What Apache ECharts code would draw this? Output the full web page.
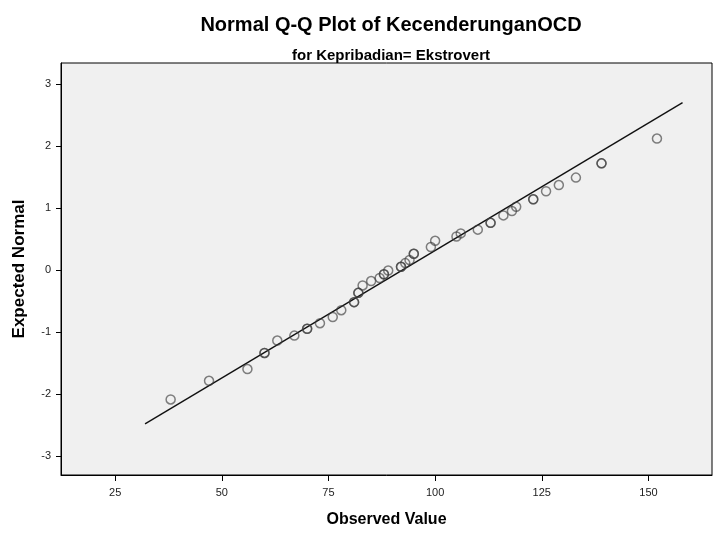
<!DOCTYPE html>
<html>
<head>
<meta charset="utf-8">
<script src="https://cdn.jsdelivr.net/npm/echarts@6/dist/echarts.min.js"></script>
<style>
html,body{margin:0;padding:0;background:#fff;}
#chart{width:715px;height:533px;}
</style>
</head>
<body>
<div id="chart"></div>
<script>
// Observed values (repeated values are tied observations)
var observed = [38, 47, 56, 60, 60, 63, 67, 70, 70, 73, 76, 78, 81, 81, 82, 82, 83, 85, 87, 88, 88, 89, 92, 92, 93, 94, 95, 95, 99, 100, 105, 106, 110, 113, 113, 116, 118, 119, 123, 123, 126, 129, 133, 139, 139, 152];
// Expected normal values
var expected = [-2.09, -1.79, -1.60, -1.34, -1.34, -1.14, -1.06, -0.95, -0.95, -0.86, -0.76, -0.65, -0.52, -0.52, -0.37, -0.37, -0.25, -0.18, -0.13, -0.07, -0.07, -0.01, 0.05, 0.05, 0.11, 0.16, 0.26, 0.26, 0.37, 0.47, 0.54, 0.59, 0.65, 0.76, 0.76, 0.88, 0.95, 1.02, 1.14, 1.14, 1.27, 1.37, 1.49, 1.72, 1.72, 2.12];
// Reference line end points
var lineX = [32.0, 158.0];
var lineY = [-2.484, 2.70];
// Tick labels
var xTicks = [25, 50, 75, 100, 125, 150];
var yTicks = [-3, -2, -1, 0, 1, 2, 3];

var pts = observed.map(function (v, i) { return [v, expected[i]]; });
var linePts = lineX.map(function (v, i) { return [v, lineY[i]]; });

var font = 'Arial, "Liberation Sans", sans-serif';
var chart = echarts.init(document.getElementById('chart'), null, {renderer: 'canvas'});
chart.setOption({
  animation: false,
  backgroundColor: '#ffffff',
  title: [
    {text: 'Normal Q-Q Plot of KecenderunganOCD', left: 386, top: 10, textAlign: 'center',
     textStyle: {fontFamily: font, fontSize: 20, fontWeight: 'bold', color: '#000'}},
    {text: 'for Kepribadian= Ekstrovert', left: 386, top: 43, textAlign: 'center',
     textStyle: {fontFamily: font, fontSize: 15, fontWeight: 'bold', color: '#000'}}
  ],
  grid: {left: 61, top: 63, right: 3, bottom: 53, show: true, backgroundColor: '#f0f0f0', borderColor: '#000', borderWidth: 1},
  xAxis: {
    type: 'value', min: 12.3, max: 164.9,
    name: 'Observed Value', nameLocation: 'middle', nameGap: 37,
    nameTextStyle: {fontFamily: font, fontSize: 16, fontWeight: 'bold', color: '#000'},
    axisLine: {show: true, onZero: false, lineStyle: {color: '#000', width: 1}},
    axisTick: {show: true, length: 6, customValues: xTicks, lineStyle: {color: '#000'}},
    axisLabel: {customValues: xTicks, fontFamily: font, fontSize: 11, color: '#222', margin: 12},
    splitLine: {show: false}
  },
  yAxis: {
    type: 'value', min: -3.31, max: 3.34,
    name: 'Expected Normal', nameLocation: 'middle', nameGap: 33, nameRotate: 90,
    nameTextStyle: {fontFamily: font, fontSize: 17, fontWeight: 'bold', color: '#000'},
    axisLine: {show: true, onZero: false, lineStyle: {color: '#000', width: 1}},
    axisTick: {show: true, length: 5, customValues: yTicks, lineStyle: {color: '#000'}},
    axisLabel: {customValues: yTicks, fontFamily: font, fontSize: 11, color: '#222', margin: 10},
    splitLine: {show: false}
  },
  series: [
    {type: 'line', data: linePts, symbol: 'none', silent: true,
     lineStyle: {color: '#111', width: 1.4}, z: 2},
    {type: 'scatter', data: pts, symbol: 'circle', symbolSize: 9,
     itemStyle: {color: 'rgba(0,0,0,0)', borderColor: 'rgba(60,60,60,0.8)', borderWidth: 1.5}, z: 3}
  ]
});
</script>
</body>
</html>
